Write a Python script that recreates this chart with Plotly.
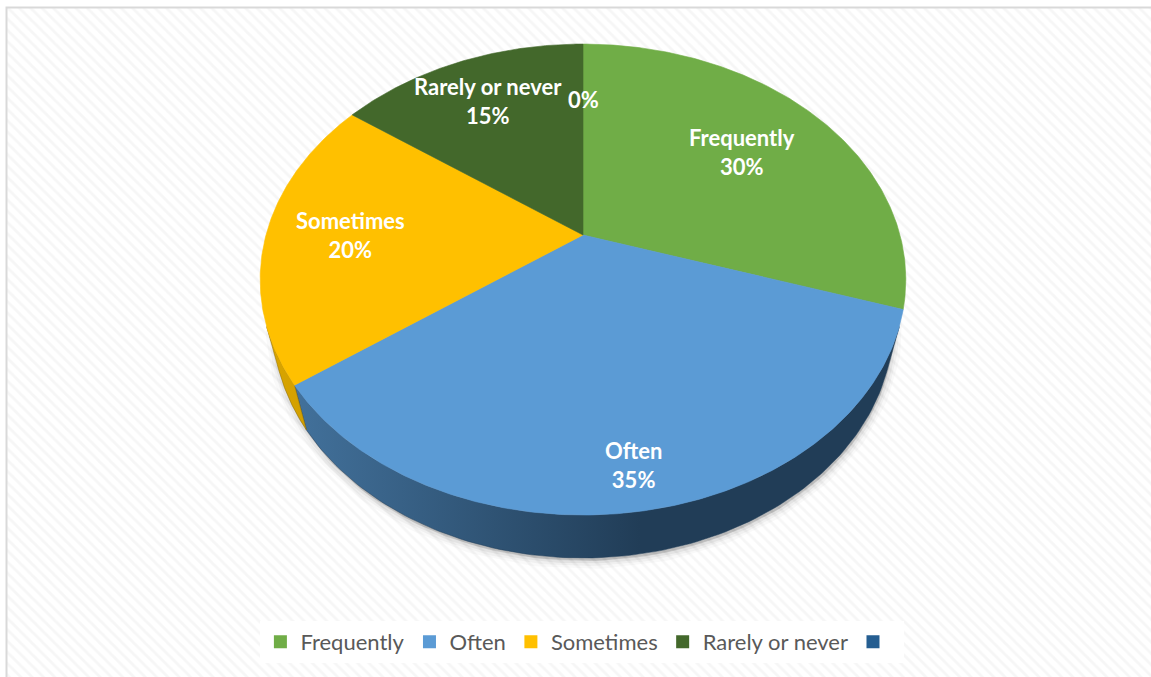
import numpy as np
import plotly.graph_objects as go

# ---------------- data ----------------
categories = ["Frequently", "Often", "Sometimes", "Rarely or never", ""]
values = [30, 35, 20, 15, 0]
pct_labels = ["30%", "35%", "20%", "15%", "0%"]

# ---------------- style ----------------
top_colors = ["#70AD47", "#5B9BD5", "#FFC000", "#43682B", "#255E91"]
side_scales = [
    [[0, "#5a8c38"], [1, "#365523"]],
    [[0, "#44749f"], [1, "#213d57"]],
    [[0, "#d8a400"], [1, "#8f6c00"]],
    [[0, "#36541f"], [1, "#223514"]],
    [[0, "#1e4b74"], [1, "#12304b"]],
]
label_r = [0.665, 0.86, 0.735, 0.745, 0.67]

W, H = 1151, 677
CX, CY = 583, 235          # projected pie centre (px)
SX, SY = 317, 323          # projected radius scales (px)
K = 0.266                  # radius / camera distance
SIN_A, COS_A = 0.703, 0.711  # camera elevation
DEPTH = 0.206              # pie thickness (radius units)
FONT = "Lato"


def project(theta_deg, r, z):
    t = np.radians(theta_deg)
    x = r * np.sin(t)
    y = r * np.cos(t)
    d = 1 + K * (y * COS_A - z * SIN_A)
    X = CX + SX * x / d
    Y = CY - SY * (y * SIN_A + z * COS_A) / d
    return X, Y


total = sum(values)
bounds = np.concatenate([[0], np.cumsum(values)]) / total * 360.0

fig = go.Figure()

# background hatch
fig.add_trace(go.Scatter(
    x=[6, W + 10, W + 10, 6, 6], y=[7, 7, H + 10, H + 10, 7],
    mode="lines", fill="toself", line=dict(width=0),
    fillcolor="white",
    fillpattern=dict(shape="\\", fgcolor="#eeeeee", bgcolor="white", size=8, solidity=0.35),
    hoverinfo="skip", showlegend=False))

# soft shadow under pie
th = np.linspace(0, 360, 361)
sx, sy = project(th, 1.0, -DEPTH)
for lw, a in [(16, 0.025), (10, 0.035), (5, 0.05)]:
    fig.add_trace(go.Scatter(
        x=sx + 1, y=sy + 3, mode="lines", fill="toself",
        fillcolor="rgba(0,0,0,0.06)", line=dict(width=lw, color=f"rgba(0,0,0,{a})"),
        hoverinfo="skip", showlegend=False))

# side walls (visible front part)
VIS_LO, VIS_HI = 112.0, 248.0
for i, v in enumerate(values):
    a, b = bounds[i], bounds[i + 1]
    lo, hi = max(a, VIS_LO), min(b, VIS_HI)
    if v == 0 or hi <= lo:
        continue
    t = np.linspace(lo, hi, 120)
    tx, ty = project(t, 1.0, 0.0)
    bx, by = project(t[::-1], 1.0, -DEPTH)
    fig.add_trace(go.Scatter(
        x=np.concatenate([tx, bx, tx[:1]]), y=np.concatenate([ty, by, ty[:1]]),
        mode="lines", fill="toself", line=dict(width=0.5, color=side_scales[i][1][1]),
        fillgradient=dict(type="horizontal", colorscale=side_scales[i], start=275, stop=640),
        hoverinfo="skip", showlegend=False))

# top faces
for i, v in enumerate(values):
    if v == 0:
        continue
    a, b = bounds[i], bounds[i + 1]
    t = np.linspace(a, b, max(int((b - a) * 2), 8))
    px, py = project(t, 1.0, 0.0)
    fig.add_trace(go.Scatter(
        x=np.concatenate([[CX], px, [CX]]), y=np.concatenate([[CY], py, [CY]]),
        mode="lines", fill="toself", fillcolor=top_colors[i],
        line=dict(width=0.6, color=top_colors[i]),
        name=categories[i], hoverinfo="name", showlegend=False))

# data labels
for i, v in enumerate(values):
    mid = (bounds[i] + bounds[i + 1]) / 2.0
    lx, ly = project(mid, label_r[i], 0.0)
    txt = f"{categories[i]}<br>{pct_labels[i]}" if categories[i] else pct_labels[i]
    fig.add_annotation(x=lx, y=ly, text=f"<b>{txt}</b>", showarrow=False,
                       font=dict(family=FONT, size=22, color="white"),
                       xanchor="center", yanchor="middle")

# legend entries
for i, c in enumerate(categories):
    fig.add_trace(go.Scatter(
        x=[None], y=[None], mode="markers", name=c if c else " ",
        marker=dict(symbol="square", size=13, color=top_colors[i]),
        showlegend=True))

fig.add_shape(type="rect", x0=6.5, y0=7.5, x1=W + 20, y1=H + 20,
              line=dict(color="#d9d9d9", width=2), layer="above")

fig.update_layout(
    width=W, height=H,
    margin=dict(l=0, r=0, t=0, b=0),
    paper_bgcolor="white", plot_bgcolor="white",
    xaxis=dict(range=[0, W], visible=False, fixedrange=True),
    yaxis=dict(range=[H, 0], visible=False, fixedrange=True),
    showlegend=True,
    legend=dict(orientation="h", x=0.506, xanchor="center", y=1 - 642 / H, yanchor="middle",
                bgcolor="white", font=dict(family=FONT, size=22, color="#595959"),
                itemwidth=30, itemclick=False, itemdoubleclick=False),
)

fig.write_html("out.html")
